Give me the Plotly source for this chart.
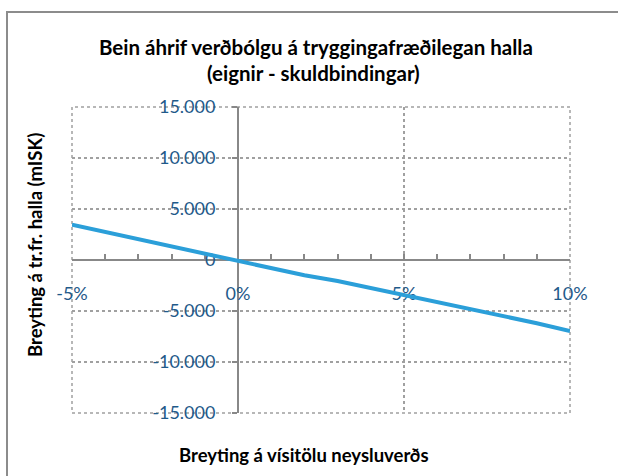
import plotly.graph_objects as go

# Data
inflation_change = [-0.05, -0.04, -0.03, -0.02, -0.01, 0.0, 0.01, 0.02, 0.03, 0.04, 0.05, 0.06, 0.07, 0.08, 0.09, 0.10]
deficit_change = [3450, 2750, 2050, 1350, 650, 0, -720, -1500, -2060, -2750, -3360, -4150, -4740, -5520, -6200, -6960]

x_tick_vals = [-0.05, 0.0, 0.05, 0.10]
x_tick_labels = ["-5%", "0%", "5%", "10%"]
y_tick_vals = [-15000, -10000, -5000, 0, 5000, 10000, 15000]
y_tick_labels = ["-15.000", "-10.000", "-5.000", "0", "5.000", "10.000", "15.000"]

title_line1 = "Bein áhrif verðbólgu á tryggingafræðilegan halla"
title_line2 = "(eignir - skuldbindingar)"
x_title = "Breyting á vísitölu neysluverðs"
y_title = "Breyting á tr.fr. halla (mISK)"

FONT = "Lato"
TICK_COLOR = "#1f5a8a"
AXIS_COLOR = "#888888"
GRID_COLOR = "#a0a0a0"
LINE_COLOR = "#2b9fd9"

fig = go.Figure()
fig.add_trace(go.Scatter(
    x=inflation_change, y=deficit_change, mode="lines",
    line=dict(color=LINE_COLOR, width=4),
    showlegend=False, hoverinfo="skip",
))

W, H = 618, 476
L, R, T, B = 72, 48, 107, 63
pw, ph = W - L - R, H - T - B

def px(xp):
    return (xp - L) / pw

def py(yp):
    return (H - B - yp) / ph

xr = [-0.05, 0.10]
yr = [-15000, 15000]

fig.update_layout(
    width=W, height=H,
    margin=dict(l=L, r=R, t=T, b=B, pad=0, autoexpand=False),
    paper_bgcolor="white", plot_bgcolor="white",
    font=dict(family=FONT, color="black"),
    xaxis=dict(range=xr, tickvals=x_tick_vals, showticklabels=False, ticks="",
               showgrid=True, gridcolor=GRID_COLOR, griddash="dot", gridwidth=1.5,
               zeroline=False, showline=False, fixedrange=True, automargin=False),
    yaxis=dict(range=yr, tickvals=y_tick_vals, showticklabels=False, ticks="",
               showgrid=True, gridcolor=GRID_COLOR, griddash="dot", gridwidth=1.5,
               zeroline=False, showline=False, fixedrange=True, automargin=False),
    xaxis2=dict(range=xr, overlaying="x", anchor="free", position=0.5, side="bottom",
                tickvals=x_tick_vals, ticktext=x_tick_labels,
                showline=True, linecolor=AXIS_COLOR, linewidth=2,
                ticks="inside", ticklen=5, tickwidth=2, tickcolor=AXIS_COLOR,
                minor=dict(ticks="inside", dtick=0.01, tick0=0, ticklen=5, tickwidth=2, tickcolor=AXIS_COLOR, showgrid=False),
                tickfont=dict(family=FONT, size=18, color=TICK_COLOR),
                ticklabelstandoff=17,
                showgrid=False, zeroline=False, layer="below traces", fixedrange=True, automargin=False),
    yaxis2=dict(range=yr, overlaying="y", anchor="free", position=(0 - xr[0]) / (xr[1] - xr[0]), side="left",
                tickvals=y_tick_vals, ticktext=y_tick_labels,
                showline=True, linecolor=AXIS_COLOR, linewidth=2,
                ticks="outside", ticklen=5, tickwidth=2, tickcolor=AXIS_COLOR,
                tickfont=dict(family=FONT, size=18, color=TICK_COLOR),
                ticklabelstandoff=13,
                showgrid=False, zeroline=False, layer="below traces", fixedrange=True, automargin=False),
)

# invisible trace so the secondary axes render
fig.add_trace(go.Scatter(x=[None], y=[None], xaxis="x2", yaxis="y2", showlegend=False, hoverinfo="skip"))

annotations = [
    dict(text=f"<b>{title_line1}</b>", x=px(316), y=py(47), xref="paper", yref="paper",
         xanchor="center", yanchor="middle", showarrow=False, font=dict(family=FONT, size=20.5, color="black")),
    dict(text=f"<b>{title_line2}</b>", x=px(313), y=py(73), xref="paper", yref="paper",
         xanchor="center", yanchor="middle", showarrow=False, font=dict(family=FONT, size=20.5, color="black")),
    dict(text=f"<b>{x_title}</b>", x=px(304), y=py(455), xref="paper", yref="paper",
         xanchor="center", yanchor="middle", showarrow=False, font=dict(family=FONT, size=18.5, color="black")),
    dict(text=f"<b>{y_title}</b>", x=px(35), y=py(245), xref="paper", yref="paper",
         xanchor="center", yanchor="middle", showarrow=False, textangle=-90,
         font=dict(family=FONT, size=18.5, color="black")),
]
fig.update_layout(annotations=annotations)

# dotted plot-area border (edge gridlines)
fig.add_shape(type="rect", xref="paper", yref="paper", x0=0, x1=1, y0=0, y1=1,
              line=dict(color=GRID_COLOR, width=1.5, dash="dot"), fillcolor="rgba(0,0,0,0)", layer="below")

# chart frame
fig.add_shape(type="rect", xref="paper", yref="paper",
              x0=px(7), x1=px(640), y0=py(500), y1=py(12),
              line=dict(color="#8c8c8c", width=2), fillcolor="rgba(0,0,0,0)", layer="below")

fig.write_html("out.html", config={"displayModeBar": False},
               post_script="document.body.style.margin='0';document.body.style.overflow='hidden';")
